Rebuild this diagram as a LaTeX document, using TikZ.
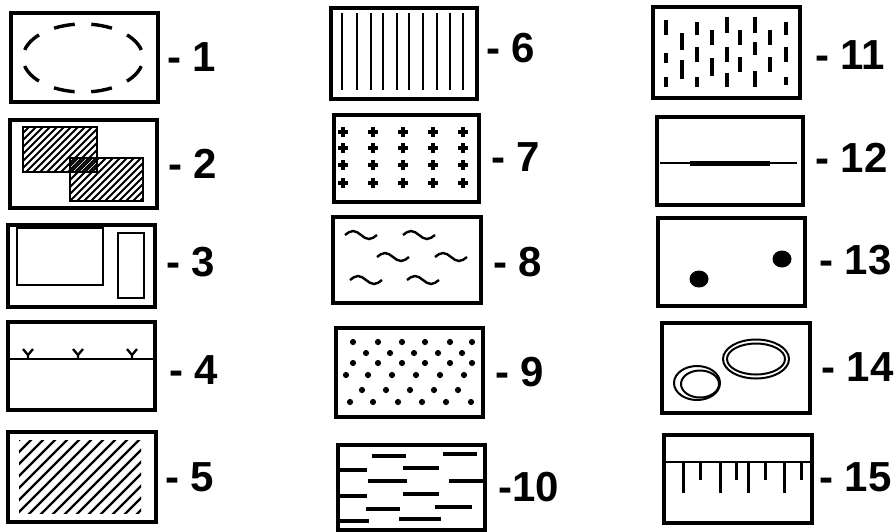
\documentclass[tikz,border=0pt]{standalone}
\usepackage{fontspec}
\setmainfont{Liberation Sans}
\begin{document}
\begin{tikzpicture}[x=1pt,y=-1pt,
  box/.style={draw, line width=3.2pt, inner sep=0pt, rectangle},
  lbl/.style={anchor=west, inner sep=0pt, font=\fontsize{42}{42}\selectfont\bfseries},
  thin/.style={line width=2.1pt},
  hatch/.style={line width=1.9pt},
  dsh/.style={line width=3.6pt},
  crs/.style={line width=3.2pt},
  wave/.style={line width=2.4pt},
  tick/.style={line width=3pt}]
\useasboundingbox (0,0) rectangle (894,531);
% ---------- boxes ----------
\node[box, minimum width=147pt, minimum height=89pt] (b1) at (84.5,57.5) {};
\node[box, minimum width=147pt, minimum height=88pt] (b2) at (83.5,164) {};
\node[box, minimum width=147pt, minimum height=82pt] (b3) at (81.5,266) {};
\node[box, minimum width=147pt, minimum height=88pt] (b4) at (81.5,366) {};
\node[box, minimum width=148pt, minimum height=90pt] (b5) at (82,477) {};
\node[box, minimum width=146pt, minimum height=91pt] (b6) at (404,53.5) {};
\node[box, minimum width=145pt, minimum height=87pt] (b7) at (406.5,158.5) {};
\node[box, minimum width=148pt, minimum height=86pt] (b8) at (407,260) {};
\node[box, minimum width=147pt, minimum height=89pt] (b9) at (409.5,372.5) {};
\node[box, minimum width=147pt, minimum height=85pt] (b10) at (411.5,487.5) {};
\node[box, minimum width=147pt, minimum height=91pt] (b11) at (726.5,52.5) {};
\node[box, minimum width=146pt, minimum height=88pt] (b12) at (730,161) {};
\node[box, minimum width=147pt, minimum height=88pt] (b13) at (731.5,262) {};
\node[box, minimum width=148pt, minimum height=90pt] (b14) at (736,368) {};
\node[box, minimum width=148pt, minimum height=88pt] (b15) at (738,479) {};
% ---------- labels ----------
\node[lbl] (l1) at (167,57) {- 1};
\node[lbl] (l2) at (168,164) {- 2};
\node[lbl] (l3) at (166,262) {- 3};
\node[lbl] (l4) at (169,370) {- 4};
\node[lbl] (l5) at (165,477) {- 5};
\node[lbl] (l6) at (486,48) {- 6};
\node[lbl] (l7) at (491,157) {- 7};
\node[lbl] (l8) at (493,262) {- 8};
\node[lbl] (l9) at (495,372) {- 9};
\node[lbl] (l10) at (498,487) {-10};
\node[lbl] (l11) at (815,55) {- 11};
\node[lbl] (l12) at (815,158) {- 12};
\node[lbl] (l13) at (819,260) {- 13};
\node[lbl] (l14) at (821,367) {- 14};
\node[lbl] (l15) at (819,477) {- 15};
% ---------- 1: dashed ellipse ----------
\draw[line width=3.4pt, dash pattern=on 21pt off 16.6pt, dash phase=29.3pt]
  (83,58) ellipse [x radius=60pt, y radius=34pt];
% ---------- 2: two hatched rectangles ----------
\begin{scope}
  \clip (23,127) rectangle (97,172);
  \foreach \k in {-70,-63,...,150} \draw[hatch] (\k,205) -- ++(100,-100);
\end{scope}
\begin{scope}
  \clip (70,158) rectangle (143,201);
  \foreach \k in {-70,-63,...,150} \draw[hatch] (\k+3,205) -- ++(100,-100);
\end{scope}
\draw[thin] (23,127) rectangle (97,172);
\draw[thin] (70,158) rectangle (143,201);
% ---------- 3: rectangles ----------
\draw[thin] (17,228) rectangle (103,285);
\draw[thin] (118,233) rectangle (144,298);
% ---------- 4: line with marks ----------
\draw[thin] (b4.west |- 0,359) -- (b4.east |- 0,359);
\foreach \vx in {28,78,132}
  \draw[line width=2.3pt] (\vx-5,349) -- (\vx,355) -- (\vx+5,349) (\vx,355) -- (\vx,359);
% ---------- 5: diagonal hatching ----------
\begin{scope}
  \clip (19,440) rectangle (141,513);
  \foreach \k in {-80,-68,...,150} \draw[line width=2.3pt] (\k,515) -- ++(90,-90);
\end{scope}
% ---------- 6: vertical lines ----------
\foreach \vx in {342,357,371,383,397,409,423,437,450,463}
  \draw[line width=2.5pt] (\vx,13) -- (\vx,90);
% ---------- 7: crosses ----------
\foreach \cx in {343,373,403,433,463}
  \foreach \cy in {132,148,165,183}
    \draw[crs] (\cx-5,\cy) -- (\cx+5,\cy) (\cx,\cy-5) -- (\cx,\cy+5);
% ---------- 8: waves ----------
\foreach \wx/\wy in {345/235,403/235,377/257,435/257,350/280,407/280}
  \draw[wave] (\wx,\wy) sin ++(8,-4) cos ++(8,4) sin ++(8,4) cos ++(8,-4);
% ---------- 9: dots ----------
\foreach \dx in {353,378,402,425,450,472} \fill (\dx,342) circle[radius=3.1pt];
\foreach \dx in {366,390,414,438,462} \fill (\dx,353) circle[radius=3.1pt];
\foreach \dx in {353,378,402,425,450,472} \fill (\dx,363) circle[radius=3.1pt];
\foreach \dx in {346,368,392,416,440,464} \fill (\dx,375) circle[radius=3.1pt];
\foreach \dx in {362,386,410,434,458} \fill (\dx,390) circle[radius=3.1pt];
\foreach \dx in {350,373,398,422,446,471} \fill (\dx,402) circle[radius=3.1pt];
% ---------- 10: short dashes ----------
\foreach \xa/\xb/\dy in {372/406/456,443/477/454,340/367/470,403/439/468,368/407/481,449/483/481,
                         340/367/496,403/439/494,366/400/509,435/472/507,340/369/521,399/441/519}
  \draw[dsh] (\xa,\dy) -- (\xb,\dy);
% ---------- 11: vertical dashes ----------
\foreach \vx/\ya/\yb in {666/20/35,666/53/63,666/77/87,
                         682/33/50,682/60/79,
                         697/22/35,697/47/62,697/77/87,
                         712/30/45,712/58/76,
                         727/17/33,727/47/62,727/73/87,
                         740/30/45,740/57/72,
                         755/17/33,755/42/55,755/71/87,
                         770/30/45,770/57/72,
                         786/22/35,786/47/62,786/77/85}
  \draw[line width=4pt] (\vx,\ya) -- (\vx,\yb);
% ---------- 12: line with thick middle ----------
\draw[line width=1.8pt] (660,163) -- (797,163);
\draw[line width=5pt] (690,163) -- (770,163);
% ---------- 13: two dots ----------
\fill (699,279) ellipse [x radius=9.5pt, y radius=8.5pt];
\fill (782,259) ellipse [x radius=9.5pt, y radius=8.5pt];
% ---------- 14: rings ----------
\draw[line width=2pt] (756,359) ellipse [x radius=33pt, y radius=19.5pt];
\draw[line width=2pt] (756,359) ellipse [x radius=29pt, y radius=15.5pt];
\draw[line width=2pt] (697,383) ellipse [x radius=23pt, y radius=17pt];
\draw[line width=2pt] (700,384) ellipse [x radius=19pt, y radius=13.5pt];
% ---------- 15: scale ----------
\draw[line width=2.8pt] (b15.west |- 0,462) -- (b15.east |- 0,462);
\foreach \tx in {683,720,748,784} \draw[tick] (\tx,462) -- (\tx,493);
\foreach \tx in {700,736,765,801} \draw[tick] (\tx,462) -- (\tx,480);
\end{tikzpicture}
\end{document}
